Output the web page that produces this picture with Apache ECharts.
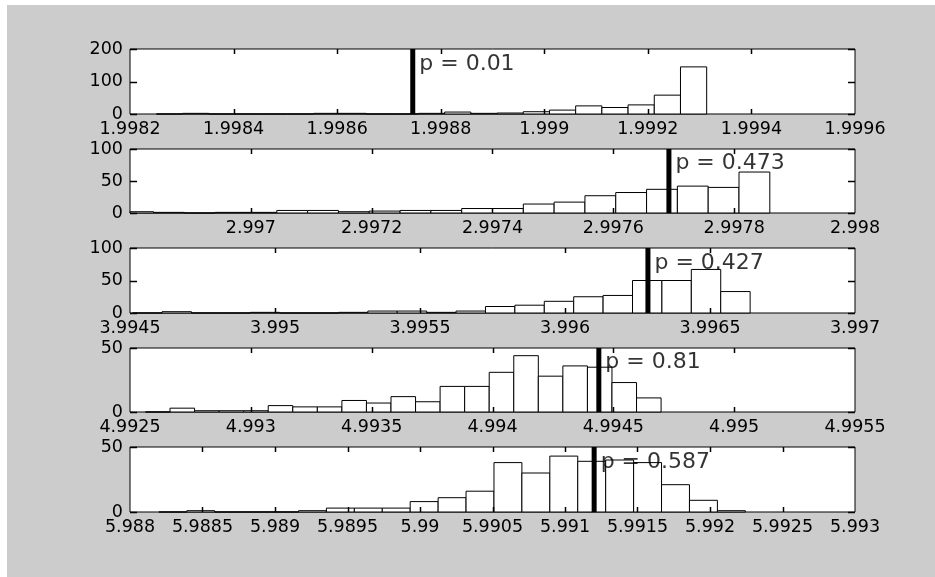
<!DOCTYPE html>
<html>
<head>
<meta charset="utf-8">
<script src="https://cdn.jsdelivr.net/npm/echarts@6/dist/echarts.min.js"></script>
<style>
  html, body { margin: 0; padding: 0; background: #ffffff; }
  #chart { width: 935px; height: 577px; }
</style>
</head>
<body>
<div id="chart"></div>
<script>
// histogram counts, one array per panel (21 bins each)
var counts1 = [0, 2, 0, 0, 0, 0, 2, 2, 0, 0, 2, 6, 2, 3, 7, 12, 25, 20, 28, 58, 145];
var counts2 = [2, 1, 0, 1, 1, 4, 4, 2, 3, 4, 4, 7, 7, 14, 17, 27, 32, 37, 42, 40, 64];
var counts3 = [0, 2, 0, 0, 1, 0, 0, 1, 3, 3, 1, 3, 10, 12, 18, 25, 27, 50, 50, 67, 33];
var counts4 = [0, 3, 1, 1, 1, 5, 4, 4, 9, 7, 12, 8, 20, 20, 31, 44, 28, 36, 35, 23, 11];
var counts5 = [0, 1, 0, 0, 0, 1, 3, 3, 3, 8, 11, 16, 38, 30, 43, 39, 40, 38, 21, 9, 1];

// left edge of first bin and bin width
var binStart = [1.998251, 2.996788, 3.994509, 4.992564, 5.988199];
var binWidth = [0.0000506, 0.000051, 0.0001014, 0.0001016, 0.0001926];

// observed value (thick black line) and its label
var pValue = [1.998746, 2.997692, 3.996286, 4.994440, 5.991201];
var pLabel = ['p = 0.01', 'p = 0.473', 'p = 0.427', 'p = 0.81', 'p = 0.587'];

// axes
var xMin = [1.9982, 2.9968, 3.9945, 4.9925, 5.988];
var xMax = [1.9996, 2.998, 3.997, 4.9955, 5.993];
var xStep = [0.0002, 0.0002, 0.0005, 0.0005, 0.0005];
var yMax = [200, 100, 100, 50, 50];
var yStep = [100, 50, 50, 50, 50];

var allCounts = [counts1, counts2, counts3, counts4, counts5];

// layout
var gridTop = [49, 149, 248, 348, 447];
var gridH = [65, 64, 65, 64, 65];
var gridLeft = 130, gridW = 725;
var font = 'DejaVu Sans';

var chart = echarts.init(document.getElementById('chart'));

var grids = [], xAxes = [], yAxes = [], series = [];

function fmt(v) {
  return String(parseFloat(v.toFixed(6)));
}

function renderBar(params, api) {
  var x0 = api.value(0), x1 = api.value(1), c = api.value(2);
  var p0 = api.coord([x0, 0]);
  var p1 = api.coord([x1, c]);
  var rect = echarts.graphic.clipRectByRect({
    x: p0[0], y: p1[1], width: p1[0] - p0[0], height: p0[1] - p1[1]
  }, {
    x: params.coordSys.x, y: params.coordSys.y,
    width: params.coordSys.width, height: params.coordSys.height
  });
  if (!rect) return;
  return {
    type: 'rect',
    shape: rect,
    style: { fill: '#ffffff', stroke: '#000000', lineWidth: 1 }
  };
}

for (var i = 0; i < 5; i++) {
  grids.push({
    left: gridLeft, width: gridW, top: gridTop[i], height: gridH[i],
    show: true, backgroundColor: '#ffffff', borderColor: '#000000', borderWidth: 1
  });

  xAxes.push({
    gridIndex: i, type: 'value', min: xMin[i], max: xMax[i], interval: xStep[i],
    position: 'bottom',
    splitLine: { show: false },
    axisLine: { show: false },
    axisTick: { show: false },
    axisLabel: {
      show: true, color: '#000', fontFamily: font, fontSize: 17.5, margin: 6,
      showMinLabel: i !== 1, formatter: fmt
    }
  });

  yAxes.push({
    gridIndex: i, type: 'value', min: 0, max: yMax[i], interval: yStep[i],
    position: 'left',
    splitLine: { show: false },
    axisLine: { show: false },
    axisTick: { show: false },
    axisLabel: { show: true, color: '#000', fontFamily: font, fontSize: 17.5, margin: 7 }
  });

  var bars = allCounts[i].map(function (c, k) {
    var a = binStart[i] + k * binWidth[i];
    return [a, a + binWidth[i], c];
  });

  series.push({
    type: 'custom',
    xAxisIndex: i, yAxisIndex: i,
    renderItem: renderBar,
    encode: { x: [0, 1], y: 2 },
    data: bars,
    silent: true,
    animation: false
  });

  series.push({
    type: 'line',
    xAxisIndex: i, yAxisIndex: i,
    data: [[pValue[i], 0], [pValue[i], yMax[i]]],
    symbol: 'none',
    lineStyle: { color: '#000', width: 5 },
    silent: true,
    animation: false,
    z: 5
  });

  series.push({
    type: 'scatter',
    xAxisIndex: i, yAxisIndex: i,
    data: [[pValue[i], yMax[i] * 0.77]],
    symbolSize: 1,
    itemStyle: { color: 'rgba(0,0,0,0)' },
    label: {
      show: true, position: 'right', distance: 6,
      formatter: pLabel[i], color: '#000', fontFamily: font, fontSize: 22
    },
    silent: true,
    animation: false,
    z: 12
  });
}

chart.setOption({
  backgroundColor: '#ffffff',
  animation: false,
  grid: grids,
  xAxis: xAxes,
  yAxis: yAxes,
  series: series
});

// inward tick marks on all four sides (MATLAB style), placed through the axes' own scales
function buildTicks() {
  var marks = [{
    type: 'rect', left: 7, top: 5, z: -10, silent: true,
    shape: { width: 928, height: 572 },
    style: { fill: '#cccccc' }
  }];
  function tickLine(x1, y1, x2, y2) {
    marks.push({
      type: 'line', z: 50, silent: true,
      shape: { x1: x1, y1: y1, x2: x2, y2: y2 },
      style: { stroke: '#000000', lineWidth: 1.5 }
    });
  }
  for (var g = 0; g < 5; g++) {
    var yTop = gridTop[g], yBot = gridTop[g] + gridH[g];
    var xL = gridLeft, xR = gridLeft + gridW;
    var nx = Math.round((xMax[g] - xMin[g]) / xStep[g]);
    for (var t = 1; t < nx; t++) {
      var px = Math.round(chart.convertToPixel({ xAxisIndex: g }, xMin[g] + t * xStep[g])) + 0.5;
      tickLine(px, yBot, px, yBot - 5);
      tickLine(px, yTop, px, yTop + 5);
    }
    var ny = Math.round(yMax[g] / yStep[g]);
    for (var s = 0; s <= ny; s++) {
      var py = Math.round(chart.convertToPixel({ yAxisIndex: g }, s * yStep[g])) + 0.5;
      tickLine(xL, py, xL + 7, py);
      tickLine(xR, py, xR - 7, py);
    }
  }
  return marks;
}

chart.setOption({ graphic: buildTicks() });
</script>
</body>
</html>
